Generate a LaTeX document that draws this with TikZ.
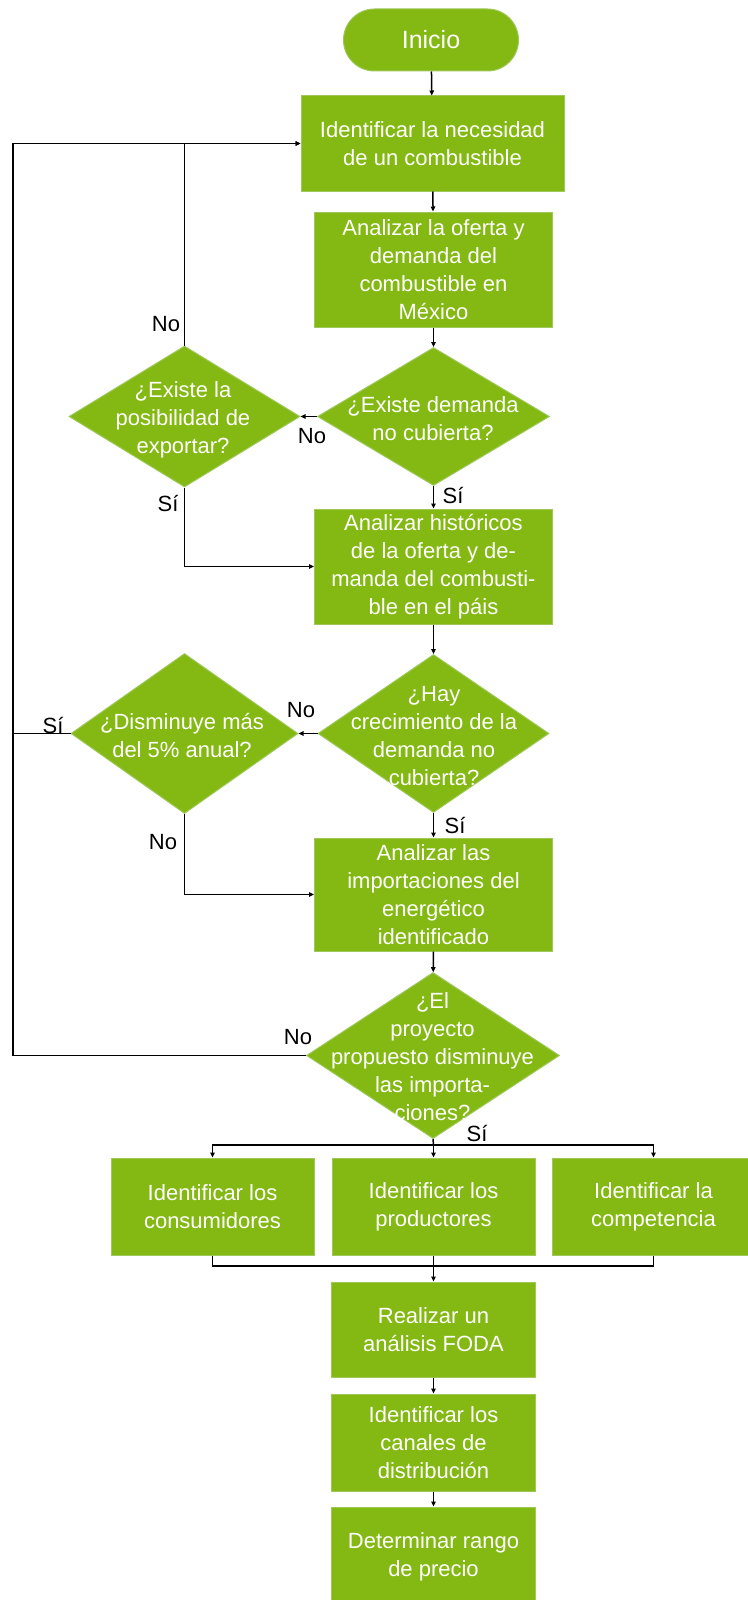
\documentclass[tikz,border=0pt]{standalone}
\usepackage{fontspec}
\setmainfont{Liberation Sans}
\usetikzlibrary{shapes.geometric,arrows.meta}
\definecolor{leaf}{RGB}{131,185,18}
\definecolor{leafedge}{RGB}{158,200,90}
\begin{document}
\begin{tikzpicture}[x=1pt,y=-1pt,
  every node/.style={font=\fontsize{22}{28}\selectfont},
  procbox/.style={rectangle,fill=leaf,draw=leafedge,line width=1pt,text=white,align=center,inner sep=0pt},
  decision/.style={diamond,fill=leaf,draw=leafedge,line width=1pt,inner sep=0pt},
  dtext/.style={text=white,align=center,inner sep=0pt},
  lbl/.style={text=black,inner sep=0pt},
  link/.style={draw=black,line width=1.5pt},
  arr/.style={link,-{Triangle[length=5pt,width=4.5pt]}}]
\useasboundingbox (0,0) rectangle (747,1600);

% start terminal
\node[procbox,rounded corners=31pt,minimum width=175pt,minimum height=62pt,
      font=\fontsize{25}{30}\selectfont] (inicio) at (431,40) {Inicio};

% main column of steps
\node[procbox,minimum width=263pt,minimum height=95pt] (b1) at (432.5,143.5)
  {Identificar la necesidad\\de un combustible};
\node[procbox,minimum width=238pt,minimum height=115pt] (b2) at (433.5,269.5)
  {Analizar la oferta y\\demanda del\\combustible en\\México};
\node[decision,minimum width=232pt,minimum height=138pt] (d1) at (433.5,416.5) {};
\node[dtext] (d1t) at (433,419) {¿Existe demanda\\no cubierta?};
\node[decision,minimum width=231pt,minimum height=141pt] (d2) at (184.5,416.5) {};
\node[dtext] (d2t) at (183,420) {¿Existe la\\posibilidad de\\exportar?};
\node[procbox,minimum width=238pt,minimum height=115pt] (b3) at (433.5,566.5)
  {Analizar históricos\\de la oferta y de-\\manda del combusti-\\ble en el páis};
\node[decision,minimum width=231pt,minimum height=158pt] (d3) at (433.5,733.5) {};
\node[dtext] (d3t) at (434,736) {¿Hay\\crecimiento de la\\demanda no\\cubierta?};
\node[decision,minimum width=227pt,minimum height=160pt] (d4) at (184.5,733.5) {};
\node[dtext] (d4t) at (182,735) {¿Disminuye más\\del 5\% anual?};
\node[procbox,minimum width=238pt,minimum height=113pt] (b4) at (433.5,894.5)
  {Analizar las\\importaciones del\\energético\\identificado};
\node[decision,minimum width=253pt,minimum height=166pt] (d5) at (433,1055.5) {};
\node[dtext] (d5t) at (432.5,1057) {¿El\\proyecto\\propuesto disminuye\\las importa-\\ciones?};

% three parallel steps
\node[procbox,minimum width=203pt,minimum height=97pt] (bA) at (212.5,1206.5)
  {Identificar los\\consumidores};
\node[procbox,minimum width=203pt,minimum height=97pt] (bB) at (433.5,1206.5)
  {Identificar los\\productores};
\node[procbox,minimum width=203pt,minimum height=97pt] (bC) at (653.5,1206.5)
  {Identificar la\\competencia};

% closing steps
\node[procbox,minimum width=204pt,minimum height=95pt] (foda) at (433.5,1329.5)
  {Realizar un\\análisis FODA};
\node[procbox,minimum width=204pt,minimum height=97pt] (canales) at (433.5,1442.5)
  {Identificar los\\canales de\\distribución};
\node[procbox,minimum width=204pt,minimum height=100pt] (precio) at (433.5,1557)
  {Determinar rango\\de precio};

% routing points
\coordinate (loop) at (13,143.5);
\coordinate (split) at (433.5,1145);
\coordinate (join) at (433.5,1266);

% main flow
\draw[arr] (inicio) -- (b1);
\draw[arr] (b1) -- (b2);
\draw[arr] (b2) -- (d1);
\draw[arr] (d1) -- (b3);
\draw[arr] (b3) -- (d3);
\draw[arr] (d3) -- (b4);
\draw[arr] (b4) -- (d5);

% side branches
\draw[arr] (d1.west) -- (d2.east);
\draw[arr] (d2.north) |- (b1.west);
\draw[arr] (d2.south) |- (b3.west);
\draw[arr] (d3.west) -- (d4.east);
\draw[arr] (d4.west) -| (loop) -- (b1.west);
\draw[arr] (d4.south) |- (b4.west);
\draw[link] (d5.west) -| (loop);

% fan out and back in
\draw[link] (d5.south) -- (split);
\draw[arr] (split) -| (bA.north);
\draw[arr] (split) -- (bB.north);
\draw[arr] (split) -| (bC.north);
\draw[link] (bA.south) |- (join);
\draw[link] (bC.south) |- (join);
\draw[arr] (bB.south) -- (foda.north);
\draw[arr] (foda) -- (canales);
\draw[arr] (canales) -- (precio);

% answer labels
\node[lbl] (noD1) at (312,436) {No};
\node[lbl] (siD1) at (453,496) {Sí};
\node[lbl] (noD2) at (166,324) {No};
\node[lbl] (siD2) at (168,504) {Sí};
\node[lbl] (noD3) at (301,710) {No};
\node[lbl] (siD3) at (455,825) {Sí};
\node[lbl] (siD4) at (53,725) {Sí};
\node[lbl] (noD4) at (163,842) {No};
\node[lbl] (noD5) at (298,1037) {No};
\node[lbl] (siD5) at (477,1133) {Sí};
\end{tikzpicture}
\end{document}
